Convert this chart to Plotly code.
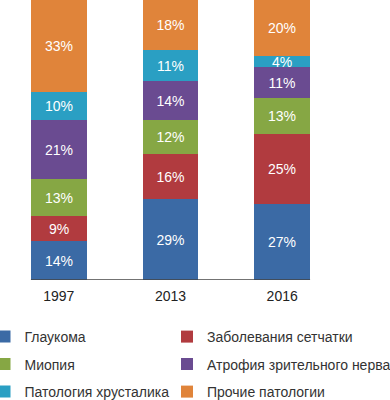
import plotly.graph_objects as go

years = ["1997", "2013", "2016"]
series_names = ["Глаукома", "Заболевания сетчатки", "Миопия",
                "Атрофия зрительного нерва", "Патология хрусталика", "Прочие патологии"]
glaucoma = [14, 29, 27]
retina = [9, 16, 25]
myopia = [13, 12, 13]
atrophy = [21, 14, 11]
lens = [10, 11, 4]
other = [33, 18, 20]
series_values = [glaucoma, retina, myopia, atrophy, lens, other]
colors = ["#3b6aa5", "#b13b3f", "#86a744", "#6a4b91", "#2a9fc3", "#e0843a"]

W, H = 390, 400
ML, MR, MT, MB = 3, 52, 0, 120
PW, PH = W - ML - MR, H - MT - MB
FONT = "Liberation Sans, Arial, sans-serif"

def xp(px):
    return (px - ML) / PW

def yp(py):
    return (H - MB - py) / PH

# legend symbol centers (pixels)
leg_pos = [(5.5, 337), (188, 337), (5.5, 364.5), (188, 364.5), (5.5, 392), (188, 392)]

fig = go.Figure()
xs = list(range(len(years)))
for i, (name, vals, col) in enumerate(zip(series_names, series_values, colors)):
    lname = "legend" if i == 0 else f"legend{i+1}"
    fig.add_trace(go.Bar(
        x=xs, y=vals, name=name, marker=dict(color=col, line=dict(width=0)),
        width=0.5, texttemplate="%{y}%", textposition="inside",
        insidetextanchor="middle", textangle=0,
        textfont=dict(color="white", size=14, family=FONT),
        legend=lname,
    ))

layout_legends = {}
for i, (px, py) in enumerate(leg_pos):
    lname = "legend" if i == 0 else f"legend{i+1}"
    layout_legends[lname] = dict(
        x=xp(px - 21), y=yp(py), xanchor="left", yanchor="middle",
        bgcolor="rgba(0,0,0,0)", borderwidth=0,
        font=dict(size=14, color="#333", family=FONT),
    )

fig.update_layout(
    width=W, height=H, margin=dict(l=ML, r=MR, t=MT, b=MB, autoexpand=False),
    barmode="stack", bargap=0,
    plot_bgcolor="white", paper_bgcolor="white",
    showlegend=True,
    uniformtext=dict(minsize=14, mode="show"),
    xaxis=dict(range=[-0.5, 2.5], tickmode="array", tickvals=xs, ticktext=years,
               showgrid=False, zeroline=False, showline=False, ticks="",
               ticklabelstandoff=6,
               tickfont=dict(size=14, color="#222", family=FONT)),
    yaxis=dict(range=[0, 100], visible=False, fixedrange=True),
    shapes=[dict(type="line", xref="x", yref="y", x0=-0.25, x1=2.25, y0=0, y1=0,
                 line=dict(color="#444", width=1.5), layer="above")],
    **layout_legends,
)

fig.write_html("out.html", config={"displayModeBar": False},
               post_script="document.body.style.margin='0';")
